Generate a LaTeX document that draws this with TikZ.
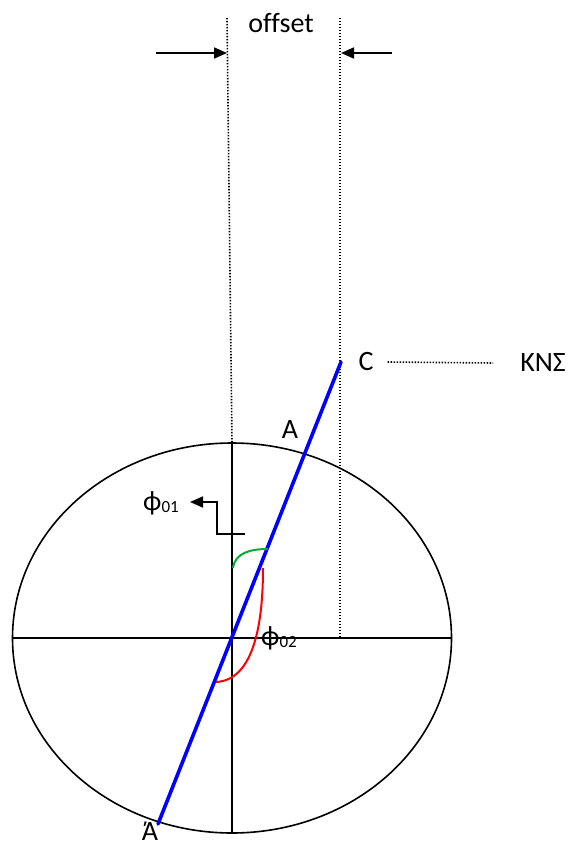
\documentclass[tikz,border=0pt]{standalone}
\usepackage{fontspec}
\setmainfont{Carlito}[Ligatures=CommonOff]
\usetikzlibrary{arrows.meta}

\newcommand{\phiidx}[1]{ϕ\raisebox{-2pt}{\fontsize{17}{20}\selectfont #1}}

\begin{document}
\begin{tikzpicture}[x=1pt, y=-1pt,
        lab/.style={font=\fontsize{28}{32}\selectfont, inner sep=0pt},
        axis/.style={line width=1.6pt},
        guide/.style={line width=1.6pt, dash pattern=on 1.4pt off 1.6pt},
        push/.style={line width=1.7pt, -{Triangle[length=13pt, width=11pt]}},
        chord/.style={blue, line width=3.6pt},
        arcmark/.style={line width=2pt}
    ]
    \useasboundingbox (0,0) rectangle (570,845);

    \coordinate (ctr) at (232,638);
    \coordinate (axl) at (13,638);
    \coordinate (axr) at (452,638);
    \coordinate (axt) at (232,443);
    \coordinate (axb) at (232,833);

    \draw[axis] (ctr) ellipse (219.5pt and 195pt);
    \draw[axis] (axl) -- (axr);
    \draw[axis] (axt) -- (axb);

    % offset guides
    \coordinate (gl1) at (227,18);
    \coordinate (gr1) at (340,18);
    \coordinate (gr2) at (340,638);
    \draw[guide] (gl1) -- (axt);
    \draw[guide] (gr1) -- (gr2);

    \node[lab] (offset) at (281,23) {offset};
    \coordinate (pl0) at (156,53);
    \coordinate (pl1) at (227,53);
    \coordinate (pr0) at (392,53);
    \coordinate (pr1) at (341,53);
    \draw[push] (pl0) -- (pl1);
    \draw[push] (pr0) -- (pr1);

    % chord through the centre
    \coordinate (c) at (341,362);
    \coordinate (a2) at (158,824);
    \draw[chord, line cap=round] (c) -- (a2);

    \node[lab] (lblC) at (366,362) {C};
    \node[lab] (lblK) at (543,363) {ΚΝΣ};
    \draw[guide] ([xshift=14pt]lblC.east) -- ([xshift=-27pt]lblK.west);

    \node[lab] (lblA) at (290,430) {A};
    \node[lab, anchor=base] (lblA2) at (150,840) {Ά};

    % angle marks
    \coordinate (g0) at (233,568);
    \coordinate (g1) at (268,549);
    \draw[arcmark, green!60!black!80!cyan] (g0) .. controls (235,553) and (250,549) .. (g1);

    \coordinate (r0) at (263,568);
    \coordinate (r1) at (216,682);
    \draw[arcmark, red] (r0) .. controls (263,620) and (255,680) .. (r1);

    \node[lab] (phi1) at (161,503) {\phiidx{01}};
    \coordinate (k0) at (245,534);
    \coordinate (k1) at (217,534);
    \coordinate (k2) at (217,502);
    \coordinate (k3) at (190,502);
    \draw[push] (k0) -- (k1) -- (k2) -- (k3);

    \node[lab] (phi2) at (279,638) {\phiidx{02}};

\end{tikzpicture}
\end{document}
